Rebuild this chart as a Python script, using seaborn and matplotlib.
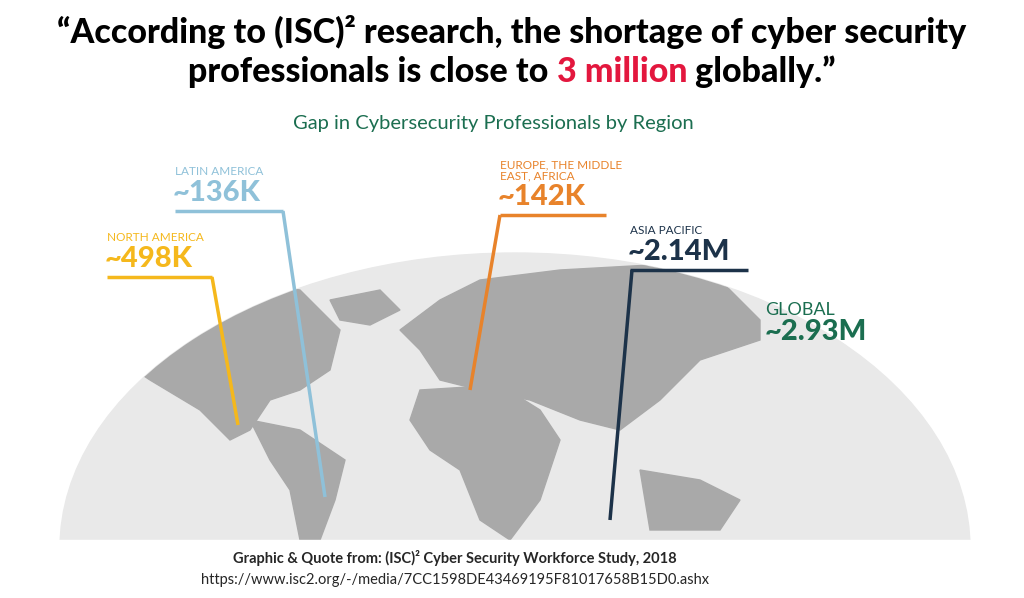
import matplotlib
matplotlib.use("Agg")
import matplotlib.pyplot as plt
import seaborn as sns
from matplotlib.patches import Ellipse, Polygon, Rectangle

sns.set_theme(style="white")
plt.rcParams['font.family'] = ['Lato', 'DejaVu Sans']

regions = ["NORTH AMERICA", "LATIN AMERICA", "EUROPE, THE MIDDLE\nEAST, AFRICA", "ASIA PACIFIC"]
values = ["~498K", "~136K", "~142K", "~2.14M"]
colors = ["#f5b81c", "#8fc1d9", "#e8832b", "#1c3249"]
label_x = [107, 175, 500, 630]
bar_y = [277, 211, 215, 270]
bar_end = [212, 283, 606, 748]
drop_x = [212, 283, 500, 632]
ends = [(238, 425), (325, 497), (470, 390), (610, 520)]

fig = plt.figure(figsize=(10.24, 5.98), dpi=100)
ax = fig.add_axes([0, 0, 1, 1])
ax.set_xlim(0, 1024); ax.set_ylim(598, 0); ax.axis("off")

globe = Ellipse((515, 548), 910, 590, color="#e9e9e9", zorder=1)
ax.add_patch(globe)
gray = "#a9a9a9"
continents = [
    [(120,320),(160,300),(230,280),(300,290),(340,330),(330,370),(300,390),(270,400),(250,430),(230,440),(200,410),(150,380),(120,360)],
    [(250,420),(300,430),(345,460),(335,500),(320,540),(300,540),(290,490),(270,460)],
    [(400,330),(440,300),(480,280),(560,270),(650,265),(720,280),(760,320),(760,340),(700,360),(660,400),(620,430),(580,420),(530,400),(480,390),(440,380),(420,350)],
    [(420,390),(500,385),(540,410),(560,440),(540,500),(510,540),(480,520),(460,470),(430,450),(410,420)],
    [(640,470),(700,480),(740,500),(720,530),(650,530)],
    [(330,300),(380,290),(400,310),(370,325),(340,320)],
]
for poly in continents:
    p = Polygon(poly, closed=True, color=gray, zorder=2)
    ax.add_patch(p)
    p.set_clip_path(globe)
ax.add_patch(Rectangle((0, 540), 1024, 60, color="white", zorder=3))

for r, v, c, x, by, bx, dx, (lx, ly) in zip(regions, values, colors, label_x, bar_y, bar_end, drop_x, ends):
    ax.text(x, by - 34, r, color=c, fontsize=8.5, va="bottom", ha="left", zorder=5, linespacing=1.0)
    ax.text(x - 2, by - 5, v, color=c, fontsize=21, fontweight="black", va="bottom", ha="left", zorder=5)
    ax.plot([x, bx], [by, by], color=c, lw=2.5, zorder=4, solid_capstyle="butt")
    ax.plot([dx, lx], [by, ly], color=c, lw=2.5, zorder=4, solid_capstyle="butt")

ax.text(765, 318, "GLOBAL", color="#1b6e50", fontsize=13, va="bottom", zorder=5)
ax.text(765, 345, "~2.93M", color="#1b6e50", fontsize=21, fontweight="black", va="bottom", zorder=5)

tkw = dict(va="center", fontsize=24.5, fontweight="black")
ax.text(512, 32, "\u201cAccording to (ISC)\u00b2 research, the shortage of cyber security",
        ha="center", color="black", **tkw)
parts = [("professionals is close to ", "black"), ("3 million", "#e3173e"), (" globally.\u201d", "black")]
fig.canvas.draw()
r = fig.canvas.get_renderer()
texts = [ax.text(0, 72, s, ha="left", color=c, **tkw) for s, c in parts]
widths = [t.get_window_extent(r).width for t in texts]
x0 = 512 - sum(widths) / 2
for t, w in zip(texts, widths):
    t.set_x(x0); x0 += w

ax.text(493, 124, "Gap in Cybersecurity Professionals by Region", ha="center", va="center",
        fontsize=14.5, color="#1b6e50")
ax.text(455, 558, "Graphic & Quote from: (ISC)\u00b2 Cyber Security Workforce Study, 2018",
        ha="center", va="center", fontsize=10.5, fontweight="bold", zorder=5)
ax.text(455, 580, "https://www.isc2.org/-/media/7CC1598DE43469195F81017658B15D0.ashx",
        ha="center", va="center", fontsize=10.5, zorder=5)

fig.savefig("out.png", dpi=100)
